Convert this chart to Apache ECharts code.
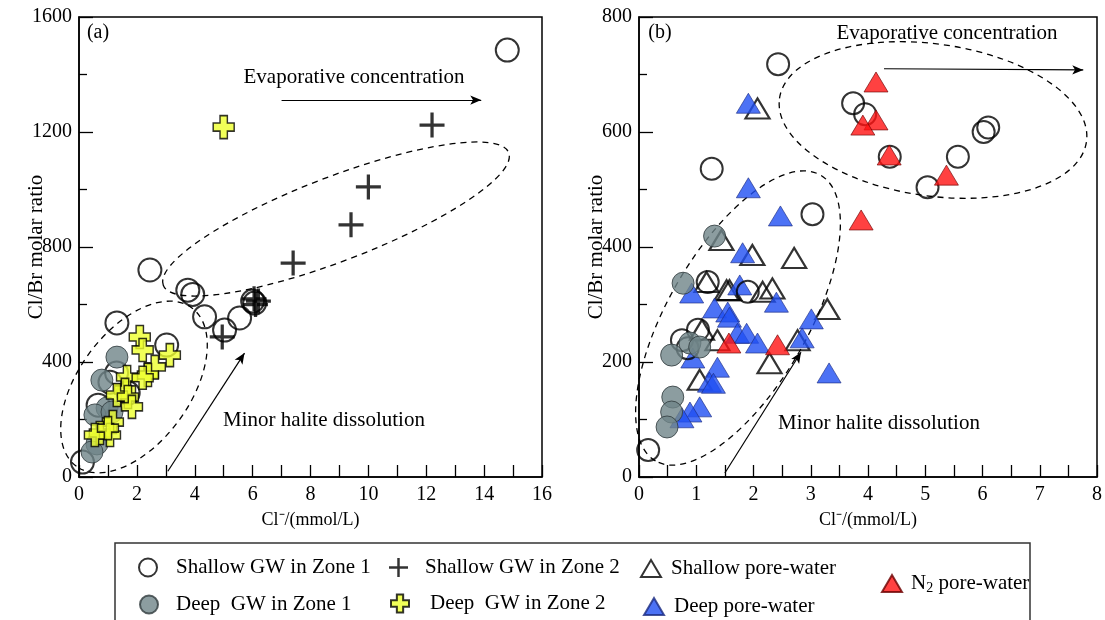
<!DOCTYPE html>
<html>
<head>
<meta charset="utf-8" />
<title>Cl/Br molar ratio vs Cl-</title>
<script src="https://cdn.jsdelivr.net/npm/echarts@6/dist/echarts.min.js"></script>
<style>
* { margin: 0; padding: 0; box-sizing: border-box; }
body { background: #fff; }
</style>
</head>
<body>
<div id="main" style="width: 1105px; height: 620px"></div>
<script>
// panel (a) — [Cl- mmol/L, Cl/Br molar ratio]
var shallowZ1A = [[14.8, 1485], [2.45, 720], [3.76, 650], [3.93, 635], [4.34, 557], [5.03, 511], [5.55, 553],
	[6.0, 612], [6.07, 605], [1.31, 536], [3.03, 459], [0.12, 52], [1.07, 330], [0.66, 250], [1.7, 292], [1.3, 362]];
var shallowZ2A = [[12.2, 1224], [10.0, 1009], [9.4, 877], [7.4, 744], [4.95, 487], [6.1, 600], [6.2, 612], [6.05, 620]];
var deepZ1A = [[1.31, 417], [0.79, 337], [0.97, 240], [0.55, 216], [1.14, 226], [0.62, 115], [0.45, 87]];
var deepZ2A = [[5.0, 1217], [2.1, 487], [2.2, 442], [3.14, 424], [2.62, 383], [2.38, 355], [1.66, 348], [2.2, 345],
	[1.59, 303], [1.31, 285], [1.69, 278], [1.83, 244], [1.17, 191], [0.72, 153], [1.07, 146], [0.55, 146], [1.0, 170]];

// panel (b)
var shallowZ1B = [[2.43, 718], [3.74, 650], [3.95, 631], [4.38, 557], [5.57, 557], [5.04, 504], [6.02, 600], [6.1, 608],
	[1.27, 536], [3.03, 457], [1.2, 339], [1.03, 256], [0.75, 238], [0.85, 224], [0.16, 47], [1.9, 322]];
var deepZ1B = [[1.32, 419], [0.77, 337], [0.57, 212], [0.89, 233], [1.06, 226], [0.59, 139], [0.57, 113], [0.49, 87]];
var shallowPore = [[2.07, 641], [1.44, 412], [1.98, 386], [2.71, 381], [1.18, 339], [1.58, 325], [2.16, 322], [2.33, 328],
	[3.29, 292], [2.77, 238], [2.28, 198], [1.37, 238], [1.06, 169], [1.1, 256], [1.53, 325]];
var deepPore = [[1.91, 650], [1.91, 503], [2.47, 454], [1.81, 390], [0.92, 320], [1.76, 334], [2.4, 304], [1.32, 294],
	[1.55, 287], [1.58, 278], [1.72, 250], [1.88, 250], [2.07, 233], [0.94, 207], [1.37, 191], [1.23, 165], [1.3, 163],
	[1.06, 122], [0.89, 113], [0.75, 103], [3.01, 275], [2.85, 242], [3.32, 181]];
var n2Pore = [[4.14, 687], [4.14, 621], [3.91, 612], [4.37, 560], [5.37, 525], [3.88, 447], [1.57, 233], [2.42, 230]];

var FONT = 'Liberation Serif';
var PLUS_THIN = 'path://M8.7,0h2.6v8.7h8.7v2.6h-8.7v8.7h-2.6v-8.7h-8.7v-2.6h8.7z';
var PLUS_THICK = 'path://M6.5,0h7v6.5h6.5v7h-6.5v6.5h-7v-6.5h-6.5v-7h6.5z';

var styles = {
	openCircle: {color: 'rgba(0,0,0,0)', borderColor: '#000', borderWidth: 2},
	grayCircle: {color: '#6f8488', borderColor: '#2f3a3c', borderWidth: 1},
	blackPlus: {color: '#000', borderWidth: 0},
	yellowPlus: {color: '#eeff2e', borderColor: '#000', borderWidth: 1.5},
	openTri: {color: 'rgba(0,0,0,0)', borderColor: '#000', borderWidth: 2.2},
	blueTri: {color: '#1f4ff2', borderColor: '#1a2a80', borderWidth: 0.8},
	redTri: {color: '#ff1212', borderColor: '#6a0000', borderWidth: 0.8}
};

var myChart = echarts.init(document.getElementById('main'));

function xAxis(idx, max, interval) {
	return {
		gridIndex: idx, type: 'value', min: 0, max: max, interval: interval,
		name: 'Cl\u207B/(mmol/L)', nameLocation: 'middle', nameGap: 34, nameMoveOverlap: false,
		nameTextStyle: {fontFamily: FONT, fontSize: 18, color: '#000'},
		axisLine: {lineStyle: {color: '#000', width: 1.5}},
		axisTick: {inside: true, length: 12, lineStyle: {color: '#000', width: 1.3}},
		minorTick: {show: true, splitNumber: 2, length: 12, lineStyle: {color: '#000', width: 1.3}},
		axisLabel: {margin: 8, fontFamily: FONT, fontSize: 20, color: '#000', formatter: function (v) { return String(v); }},
		splitLine: {show: false}
	};
}
function yAxis(idx, max, interval) {
	return {
		gridIndex: idx, type: 'value', min: 0, max: max, interval: interval,
		name: 'Cl/Br molar ratio', nameLocation: 'middle', nameGap: 32, nameRotate: 90, nameMoveOverlap: false,
		nameTextStyle: {fontFamily: FONT, fontSize: 21, color: '#000'},
		axisLine: {lineStyle: {color: '#000', width: 1.5}},
		axisTick: {inside: true, length: 14, lineStyle: {color: '#000', width: 1.3}},
		minorTick: {show: true, splitNumber: 2, length: 8, lineStyle: {color: '#000', width: 1.3}},
		axisLabel: {margin: 7, fontFamily: FONT, fontSize: 20, color: '#000', formatter: function (v) { return String(v); }},
		splitLine: {show: false}
	};
}

function scatter(name, idx, data, symbol, size, style, z) {
	return {
		name: name, type: 'scatter', xAxisIndex: idx, yAxisIndex: idx,
		data: data, symbol: symbol, symbolSize: size, itemStyle: style, z: z,
		emphasis: {disabled: true}
	};
}

var arrowLine = {
	silent: true, symbol: ['none', 'arrow'], symbolSize: [7, 11],
	lineStyle: {color: '#000', width: 1.2, type: 'solid'},
	label: {show: false}, emphasis: {disabled: true}
};

var seriesList = [
	scatter('Shallow GW in Zone 1', 0, shallowZ1A, 'circle', 23, styles.openCircle, 2),
	scatter('Deep  GW in Zone 1', 0, deepZ1A, 'circle', 22, styles.grayCircle, 3),
	scatter('Deep  GW in Zone 2', 0, deepZ2A, PLUS_THICK, [21, 23], styles.yellowPlus, 4),
	scatter('Shallow GW in Zone 2', 0, shallowZ2A, PLUS_THIN, 25, styles.blackPlus, 5),
	scatter('Shallow pore-water', 1, shallowPore, 'triangle', [24, 20], styles.openTri, 2),
	scatter('Deep pore-water', 1, deepPore, 'triangle', [24, 20], styles.blueTri, 3),
	scatter('Shallow GW in Zone 1', 1, shallowZ1B, 'circle', 22, styles.openCircle, 4),
	scatter('Deep  GW in Zone 1', 1, deepZ1B, 'circle', 22, styles.grayCircle, 5),
	scatter('N2 pore-water', 1, n2Pore, 'triangle', [24, 20], styles.redTri, 6)
];
seriesList[0].markLine = Object.assign({
	data: [[{coord: [7.0, 1311]}, {coord: [13.9, 1311]}], [{coord: [3.07, 20]}, {coord: [5.72, 431]}]]
}, arrowLine);
seriesList[4].markLine = Object.assign({
	data: [[{coord: [4.28, 710]}, {coord: [7.76, 708]}], [{coord: [1.5, 7]}, {coord: [2.83, 217]}]]
}, arrowLine);

function legendItem(name, left, top, w, h, pad, icon) {
	var item = {name: name};
	if (icon) item.icon = icon;
	return {
		data: [item], left: left, top: top, itemWidth: w, itemHeight: h, padding: 0,
		selectedMode: false, orient: 'horizontal',
		formatter: function (n) {
			return n === 'N2 pore-water' ? '{n|N}{s|2}{n| pore-water}' : n;
		},
		textStyle: {
			fontFamily: FONT, fontSize: 21, color: '#000', padding: [0, 0, 0, pad],
			rich: {
				n: {fontFamily: FONT, fontSize: 21, color: '#000'},
				s: {fontFamily: FONT, fontSize: 14, color: '#000', padding: [10, 0, 0, 0]}
			}
		}
	};
}

var dashed = {fill: 'none', stroke: '#000', lineWidth: 1.3, lineDash: [6, 5]};
function ellipse(x, y, rx, ry, deg) {
	return {type: 'ellipse', x: x, y: y, rotation: deg * Math.PI / 180, shape: {cx: 0, cy: 0, rx: rx, ry: ry}, style: dashed, silent: true, z: 1};
}
function note(text, x, y, size) {
	return {type: 'text', x: x, y: y, silent: true, z: 10,
		style: {text: text, fill: '#000', font: size + 'px "' + FONT + '"', textAlign: 'center', textVerticalAlign: 'middle'}};
}

var option = {
	backgroundColor: '#fff',
	animation: false,
	grid: [
		{left: 79, top: 17, width: 463, height: 460, show: true, borderColor: '#000', borderWidth: 1.5},
		{left: 639, top: 17, width: 460, height: 460, show: true, borderColor: '#000', borderWidth: 1.5}
	],
	xAxis: [xAxis(0, 16, 2), xAxis(1, 8, 1)],
	yAxis: [yAxis(0, 1600, 400), yAxis(1, 800, 200)],
	legend: [
		legendItem('Shallow GW in Zone 1', 138, 557, 18, 18, 14, 'circle'),
		legendItem('Shallow GW in Zone 2', 389, 557, 19, 19, 12, PLUS_THIN),
		legendItem('Shallow pore-water', 640, 558, 20, 17, 5, 'triangle'),
		legendItem('Deep  GW in Zone 1', 139, 594, 18, 18, 13, 'circle'),
		legendItem('Deep  GW in Zone 2', 390, 593, 18, 20, 16, PLUS_THICK),
		legendItem('Deep pore-water', 643, 596, 20, 17, 5, 'triangle'),
		legendItem('N2 pore-water', 881, 573, 20, 17, 4, 'triangle')
	],
	graphic: [
		ellipse(134, 387, 98, 56, 54),
		ellipse(336, 219, 185, 42, 21),
		ellipse(738, 318, 165, 70, 60),
		ellipse(933, 120, 155, 76, -8),
		note('(a)', 98, 33, 20),
		note('(b)', 660, 33, 20),
		note('Evaporative concentration', 354, 77, 21),
		note('Minor halite dissolution', 324, 420, 21),
		note('Evaporative concentration', 947, 33, 21),
		note('Minor halite dissolution', 879, 423, 21),
		{type: 'rect', silent: true, shape: {x: 115, y: 543, width: 915, height: 90},
			style: {fill: 'none', stroke: '#333', lineWidth: 1.5}}
	],
	series: seriesList
};

option && myChart.setOption(option);
</script>
</body>
</html>
